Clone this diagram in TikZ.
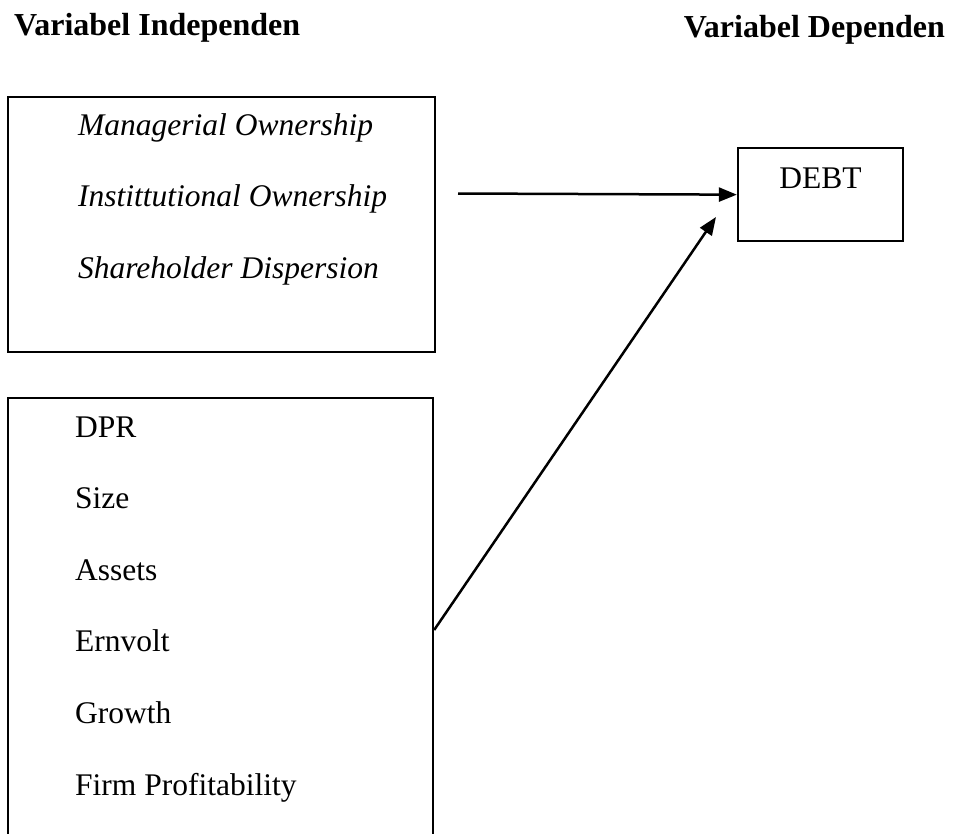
\documentclass[tikz,border=0pt]{standalone}
\usepackage{fontspec}
\setmainfont{Liberation Serif}
\usepackage{tikz}
\usetikzlibrary{arrows.meta}

\begin{document}
\begin{tikzpicture}[x=1pt, y=-1pt, line width=2.3pt,
  every node/.style={font=\fontsize{31.5}{36}\selectfont, inner sep=0pt},
  varbox/.style={draw, rectangle, line width=2.3pt},
  head/.style={anchor=base west, font=\fontsize{32}{36}\selectfont\bfseries},
  item/.style={anchor=base west},
  arr/.style={-{Triangle[length=18pt,width=14pt]}, line width=2.5pt}]
\useasboundingbox (0,0) rectangle (956,833);
\clip (0,0) rectangle (956,833);
\node[head] (hind) at (13,35) {Variabel Independen};
\node[head, anchor=base east] (hdep) at (946,37) {Variabel Dependen};
\node[varbox, minimum width=427pt, minimum height=255pt] (box1) at (221.5,224.5) {};
\node[varbox, minimum width=425pt, minimum height=464pt] (box2) at (220.5,630) {};
\foreach \txt [count=\i] in {Managerial Ownership, Instittutional Ownership, Shareholder Dispersion}
  \node[item, font=\fontsize{31.5}{36}\selectfont\itshape] (own\i) at (77,{135+71.5*(\i-1)}) {\txt};
\foreach \txt [count=\i] in {DPR, Size, Assets, Ernvolt, Growth, Firm Profitability}
  \node[item] (ctl\i) at (74,{437+71.6*(\i-1)}) {\txt};
\node[varbox, anchor=north, minimum width=165pt, inner ysep=18pt, text height=22pt, text depth=35pt] (debt) at (820.5,147) {DEBT};
\coordinate (hstart) at (458,193.5);
\coordinate (dtip) at (716,217);
\draw[arr] (hstart) -- (debt.west);
\draw[arr] (box2.east) -- (dtip);
\end{tikzpicture}
\end{document}
